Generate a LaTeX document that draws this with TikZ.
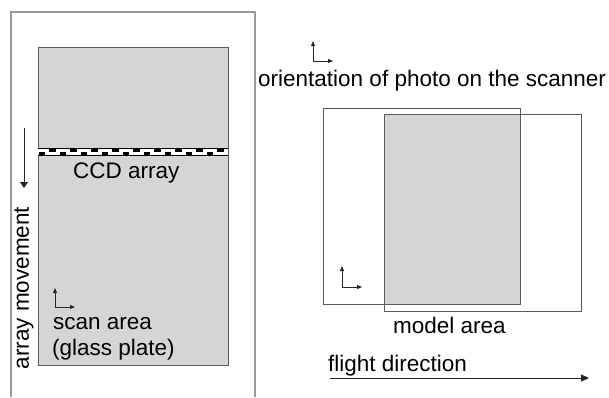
\documentclass[tikz,border=0pt]{standalone}
\usepackage{fontspec}
\setmainfont{Liberation Sans}
\usetikzlibrary{arrows.meta}
\definecolor{plate}{HTML}{D4D6D4}
\definecolor{frame}{HTML}{9A9A9A}
\definecolor{edge}{HTML}{5A5A5A}
\tikzset{
  lbl/.style={inner sep=0pt, anchor=base west, font=\fontsize{22.5}{26}\selectfont},
  axis/.style={line width=0.9pt, color=black!85, -{Triangle[length=5pt,width=4pt]}},
  bigarrow/.style={line width=0.9pt, color=black!85, -{Triangle[length=7pt,width=7pt]}},
  box/.style={draw=edge, line width=1pt},
}
\begin{document}
\begin{tikzpicture}[x=1pt,y=-1pt]
\useasboundingbox (0,0) rectangle (609,397);
% outer frame (scanner)
\draw[frame, line width=1.6pt] (11,397) -- (11,12) -- (255,12) -- (255,397);
% glass plate
\draw[box, fill=plate] (38,47) rectangle (228,365);
% CCD strip
\fill[white] (38,148.5) rectangle (228,155);
\draw[black, line width=1pt] (38,148.5) -- (228,148.5);
\draw[black, line width=0.8pt] (38,155) -- (228,155);
\foreach \k in {0,...,8} {
  \fill[black] ({49+21*\k},148.5) rectangle ({56+21*\k},152);
  \fill[black] ({38.5+21*\k},151.5) rectangle ({44.5+21*\k},155);
}
\node[lbl] (ccd) at (73,178) {CCD array};
% array movement
\coordinate (am1) at (24,128);
\coordinate (am2) at (24,188);
\draw[bigarrow, -{Triangle[length=6pt,width=8pt]}] (am1) -- (am2);
\node[inner sep=0pt, rotate=90, font=\fontsize{22.5}{26}\selectfont] (amt) at (24,288) {array movement};
% scan area axes
\coordinate (sa0) at (55,307);
\coordinate (sa1) at (55,288);
\coordinate (sa2) at (75,307);
\draw[axis] (sa0) -- (sa1);
\draw[axis] (sa0) -- (sa2);
\node[lbl] (scan) at (53,329) {scan area};
\node[lbl] (glass) at (52,355) {(glass plate)};
% orientation axes
\coordinate (or0) at (313,61);
\coordinate (or1) at (313,41);
\coordinate (or2) at (333,61);
\draw[axis] (or0) -- (or1);
\draw[axis] (or0) -- (or2);
\node[lbl] (orient) at (258,86) {orientation of photo on the scanner};
% photos
\fill[plate] (384,114) rectangle (520,304);
\draw[box] (384,114) rectangle (581,311);
\draw[box] (323,108) rectangle (520,304);
\coordinate (ph0) at (342,287);
\coordinate (ph1) at (342,266);
\coordinate (ph2) at (362,287);
\draw[axis] (ph0) -- (ph1);
\draw[axis] (ph0) -- (ph2);
\node[lbl] (model) at (393,333) {model area};
\node[lbl] (flight) at (328,371) {flight direction};
\coordinate (fl1) at (330,378);
\coordinate (fl2) at (589,378);
\draw[bigarrow, -{Triangle[length=8pt,width=7pt]}] (fl1) -- (fl2);
\end{tikzpicture}
\end{document}
